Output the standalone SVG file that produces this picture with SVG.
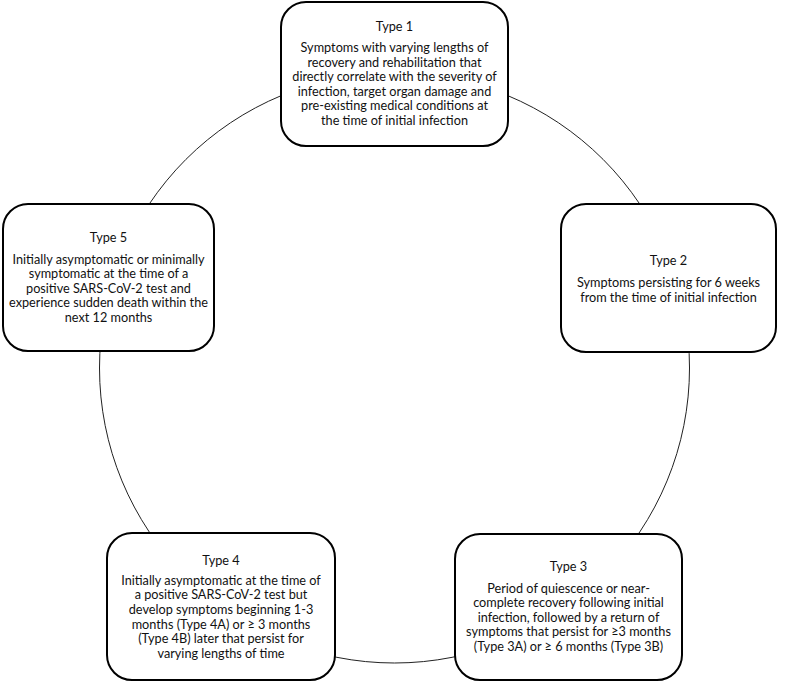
<svg xmlns="http://www.w3.org/2000/svg" width="789" height="682" viewBox="0 0 789 682">
<style>
.box{fill:#fff;stroke:#000;stroke-width:2}
.ring{fill:none;stroke:#222;stroke-width:1}
text{font-family:Lato,"Open Sans","Liberation Sans",sans-serif;font-size:12.7px;fill:#111;text-anchor:middle}
</style>
<rect width="789" height="682" fill="#fff"/>
<g id="connectors">
<circle class="ring" cx="394.5" cy="368" r="295"/>
</g>
<g id="type1">
<rect class="box" x="281" y="2" width="227" height="144" rx="25"/>
<text x="394.5" y="31">Type 1</text>
<text x="394.5" y="52">Symptoms with varying lengths of</text>
<text x="394.5" y="66.6">recovery and rehabilitation that</text>
<text x="394.5" y="81.2">directly correlate with the severity of</text>
<text x="394.5" y="95.8">infection, target organ damage and</text>
<text x="394.5" y="110.4">pre-existing medical conditions at</text>
<text x="394.5" y="125">the time of initial infection</text>
</g>
<g id="type2">
<rect class="box" x="561" y="204" width="215" height="148" rx="25"/>
<text x="668.5" y="265">Type 2</text>
<text x="668.5" y="287">Symptoms persisting for 6 weeks</text>
<text x="668.5" y="302">from the time of initial infection</text>
</g>
<g id="type3">
<rect class="box" x="455" y="534" width="227" height="146" rx="25"/>
<text x="568.5" y="571">Type 3</text>
<text x="568.5" y="592.5">Period of quiescence or near-</text>
<text x="568.5" y="607">complete recovery following initial</text>
<text x="568.5" y="621.5">infection, followed by a return of</text>
<text x="568.5" y="636">symptoms that persist for ≥3 months</text>
<text x="568.5" y="650.5">(Type 3A) or ≥ 6 months (Type 3B)</text>
</g>
<g id="type4">
<rect class="box" x="107" y="533" width="228" height="147" rx="25"/>
<text x="221" y="564.5">Type 4</text>
<text x="221" y="584.5">Initially asymptomatic at the time of</text>
<text x="221" y="599">a positive SARS-CoV-2 test but</text>
<text x="221" y="614">develop symptoms beginning 1-3</text>
<text x="221" y="628.5">months (Type 4A) or ≥ 3 months</text>
<text x="221" y="643">(Type 4B) later that persist for</text>
<text x="221" y="657.5">varying lengths of time</text>
</g>
<g id="type5">
<rect class="box" x="3" y="204" width="211" height="147" rx="25"/>
<text x="108.5" y="242">Type 5</text>
<text x="108.5" y="263.5">Initially asymptomatic or minimally</text>
<text x="108.5" y="278">symptomatic at the time of a</text>
<text x="108.5" y="292.5">positive SARS-CoV-2 test and</text>
<text x="108.5" y="307">experience sudden death within the</text>
<text x="108.5" y="321.5">next 12 months</text>
</g>
</svg>
